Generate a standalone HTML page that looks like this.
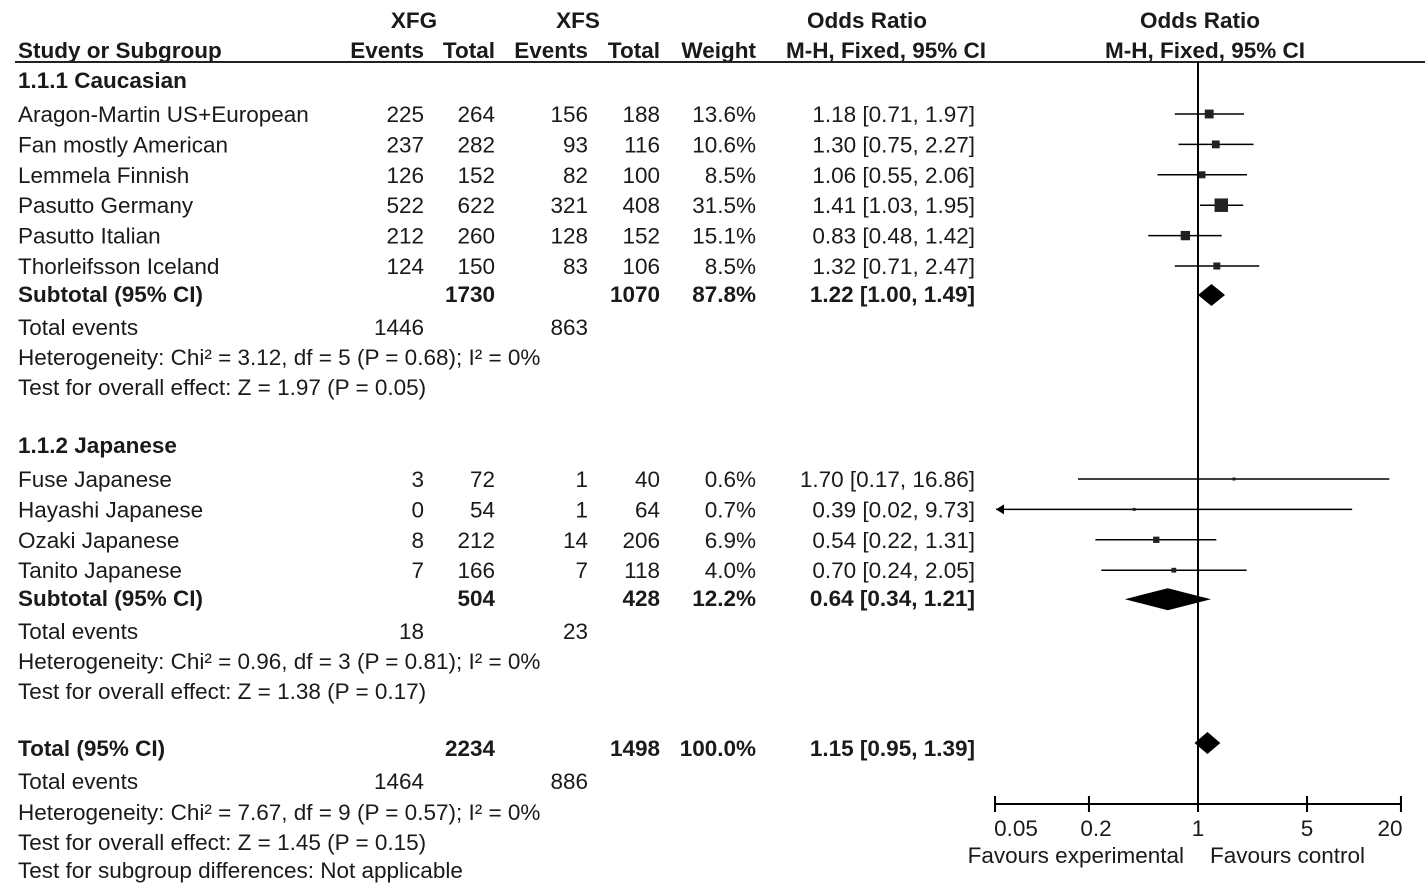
<!DOCTYPE html>
<html><head><meta charset="utf-8">
<style>
html,body{margin:0;padding:0;background:#fff;}
svg{display:block;font-family:"Liberation Sans",Arial,sans-serif;}
text{font-size:22.5px;fill:#1a1a1a;}
.b{font-weight:bold;}
</style></head>
<body>
<svg id="plot" width="1428" height="891" viewBox="0 0 1428 891">
<g id="table"></g>
<g id="marks"></g>
</svg>
<script>
const groupNames = ["1.1.1 Caucasian", "1.1.2 Japanese"];
const studies = ["Aragon-Martin US+European","Fan mostly American","Lemmela Finnish","Pasutto Germany","Pasutto Italian","Thorleifsson Iceland","Fuse Japanese","Hayashi Japanese","Ozaki Japanese","Tanito Japanese"];
const studyGroup = [0,0,0,0,0,0,1,1,1,1];
const xfgEvents = [225,237,126,522,212,124,3,0,8,7];
const xfgTotal = [264,282,152,622,260,150,72,54,212,166];
const xfsEvents = [156,93,82,321,128,83,1,1,14,7];
const xfsTotal = [188,116,100,408,152,106,40,64,206,118];
const weights = [13.6,10.6,8.5,31.5,15.1,8.5,0.6,0.7,6.9,4.0];
const orVal = [1.18,1.30,1.06,1.41,0.83,1.32,1.70,0.39,0.54,0.70];
const orLo = [0.71,0.75,0.55,1.03,0.48,0.71,0.17,0.02,0.22,0.24];
const orHi = [1.97,2.27,2.06,1.95,1.42,2.47,16.86,9.73,1.31,2.05];
const subXfgTotal = [1730,504];
const subXfsTotal = [1070,428];
const subWeight = [87.8,12.2];
const subOr = [1.22,0.64];
const subLo = [1.00,0.34];
const subHi = [1.49,1.21];
const subXfgEvents = [1446,18];
const subXfsEvents = [863,23];
const subHet = ["Heterogeneity: Chi² = 3.12, df = 5 (P = 0.68); I² = 0%","Heterogeneity: Chi² = 0.96, df = 3 (P = 0.81); I² = 0%"];
const subTest = ["Test for overall effect: Z = 1.97 (P = 0.05)","Test for overall effect: Z = 1.38 (P = 0.17)"];
const totalVals = [2234,1498,100.0,1.15,0.95,1.39,1464,886];
const tickVals = [0.05,0.2,1,5,20];
const tickLabels = ["0.05","0.2","1","5","20"];
const tickLabelShift = [21,7,0,0,-11];

const NS="http://www.w3.org/2000/svg";
const table=document.getElementById('table');
const marks=document.getElementById('marks');
const X0=1198, K=156, XMIN=996, XMAX=1402;
function xs(v){return X0+Math.log10(v)*K;}
function clampX(x){return Math.max(XMIN,Math.min(XMAX,x));}
function el(tag,attrs,parent){const e=document.createElementNS(NS,tag);for(const k in attrs)e.setAttribute(k,attrs[k]);parent.appendChild(e);return e;}
function txt(x,y,s,anchor,bold,name){
  const t=el('text',{x:x,y:y,'text-anchor':anchor||'start'},table);
  if(bold)t.setAttribute('class','b');
  t.textContent=s;
  
  
  return t;
}
function f2(v){return v.toFixed(2);}
txt(414,28,"XFG","middle",true,"xfg-header");
txt(578,28,"XFS","middle",true,"xfs-header");
txt(867,28,"Odds Ratio","middle",true,"or-header");
txt(1200,28,"Odds Ratio","middle",true,"plot-header");
txt(18,58,"Study or Subgroup","start",true,"study-header");
txt(424,58,"Events","end",true,"xfg-events-header");
txt(495,58,"Total","end",true,"xfg-total-header");
txt(588,58,"Events","end",true,"xfs-events-header");
txt(660,58,"Total","end",true,"xfs-total-header");
txt(756,58,"Weight","end",true,"weight-header");
txt(986,58,"M-H, Fixed, 95% CI","end",true,"or-method-header");
txt(1205,58,"M-H, Fixed, 95% CI","middle",true,"plot-method-header");
const hl=el('line',{x1:15,x2:1425,y1:62,y2:62,stroke:'#222','stroke-width':2},table);



function diamond(y,or,lo,hi,name){
  const p=el('polygon',{points:`${xs(lo)},${y} ${xs(or)},${y-11} ${xs(hi)},${y} ${xs(or)},${y+11}`,fill:'#000'},marks);
  
  
}

const groupStartY=[88,453];
for(let g=0;g<2;g++){
  let y=groupStartY[g];
  txt(18,y,groupNames[g],"start",true,"group-title-"+(g+1));
  y+=34;
  const rowYs=[];
  for(let i=0;i<studies.length;i++){ if(studyGroup[i]!==g)continue; rowYs.push([i,y]); y+=30.4; }
  rowYs.forEach(([i,ry])=>{
    const n="study-"+(i+1);
    txt(18,ry,studies[i],"start",false,n+"-name");
    txt(424,ry,String(xfgEvents[i]),"end",false,n+"-xfg-events");
    txt(495,ry,String(xfgTotal[i]),"end",false,n+"-xfg-total");
    txt(588,ry,String(xfsEvents[i]),"end",false,n+"-xfs-events");
    txt(660,ry,String(xfsTotal[i]),"end",false,n+"-xfs-total");
    txt(756,ry,weights[i].toFixed(1)+"%","end",false,n+"-weight");
    txt(975,ry,`${f2(orVal[i])} [${f2(orLo[i])}, ${f2(orHi[i])}]`,"end",false,n+"-or-text");
    const cy=ry-8;
    const x1=clampX(xs(orLo[i])), x2=clampX(xs(orHi[i]));
    const ln=el('line',{x1:x1,x2:x2,y1:cy,y2:cy,stroke:'#000','stroke-width':1.5},marks);
    
    
    if(xs(orLo[i])<XMIN){
      const a=el('polygon',{points:`${XMIN},${cy} ${XMIN+8},${cy-5} ${XMIN+8},${cy+5}`,fill:'#000'},marks);
      
      
    }
    const s=Math.max(3,Math.sqrt(weights[i])*2.4);
    const sq=el('rect',{x:xs(orVal[i])-s/2,y:cy-s/2,width:s,height:s,fill:'#222'},marks);
    
    
  });
  y=rowYs[rowYs.length-1][1]+28;
  const sn="subtotal-"+(g+1);
  txt(18,y,"Subtotal (95% CI)","start",true,sn+"-label");
  txt(495,y,String(subXfgTotal[g]),"end",true,sn+"-xfg-total");
  txt(660,y,String(subXfsTotal[g]),"end",true,sn+"-xfs-total");
  txt(756,y,subWeight[g].toFixed(1)+"%","end",true,sn+"-weight");
  txt(975,y,`${f2(subOr[g])} [${f2(subLo[g])}, ${f2(subHi[g])}]`,"end",true,sn+"-or-text");
  diamond(y-7,subOr[g],subLo[g],subHi[g],sn+"-diamond");
  y+=33;
  txt(18,y,"Total events","start",false,sn+"-events-label");
  txt(424,y,String(subXfgEvents[g]),"end",false,sn+"-xfg-events");
  txt(588,y,String(subXfsEvents[g]),"end",false,sn+"-xfs-events");
  y+=30;
  txt(18,y,subHet[g],"start",false,sn+"-heterogeneity");
  y+=30;
  txt(18,y,subTest[g],"start",false,sn+"-overall-test");
}
let ty=756;
txt(18,ty,"Total (95% CI)","start",true,"total-label");
txt(495,ty,String(totalVals[0]),"end",true,"total-xfg");
txt(660,ty,String(totalVals[1]),"end",true,"total-xfs");
txt(756,ty,totalVals[2].toFixed(1)+"%","end",true,"total-weight");
txt(975,ty,`${f2(totalVals[3])} [${f2(totalVals[4])}, ${f2(totalVals[5])}]`,"end",true,"total-or-text");
diamond(ty-13,totalVals[3],totalVals[4],totalVals[5],"total-diamond");
txt(18,789,"Total events","start",false,"total-events-label");
txt(424,789,String(totalVals[6]),"end",false,"total-xfg-events");
txt(588,789,String(totalVals[7]),"end",false,"total-xfs-events");
txt(18,820,"Heterogeneity: Chi² = 7.67, df = 9 (P = 0.57); I² = 0%","start",false,"total-heterogeneity");
txt(18,850,"Test for overall effect: Z = 1.45 (P = 0.15)","start",false,"total-overall-test");
txt(18,878,"Test for subgroup differences: Not applicable","start",false,"subgroup-differences");

const AY=804;
const nl=el('line',{x1:xs(1),x2:xs(1),y1:62,y2:AY,stroke:'#000','stroke-width':2},marks);


const ax=el('line',{x1:xs(tickVals[0]),x2:xs(tickVals[tickVals.length-1]),y1:AY,y2:AY,stroke:'#000','stroke-width':2},marks);


tickVals.forEach((v,i)=>{
  const t=el('line',{x1:xs(v),x2:xs(v),y1:AY-8,y2:AY+8,stroke:'#000','stroke-width':2},marks);
  
  
  const l=el('text',{x:xs(v)+tickLabelShift[i],y:AY+32,'text-anchor':'middle'},marks);
  l.textContent=tickLabels[i];
  
  
});
const fe=el('text',{x:1184,y:863,'text-anchor':'end'},marks);
fe.textContent="Favours experimental";


const fc=el('text',{x:1210,y:863,'text-anchor':'start'},marks);
fc.textContent="Favours control";


</script>
</body></html>
